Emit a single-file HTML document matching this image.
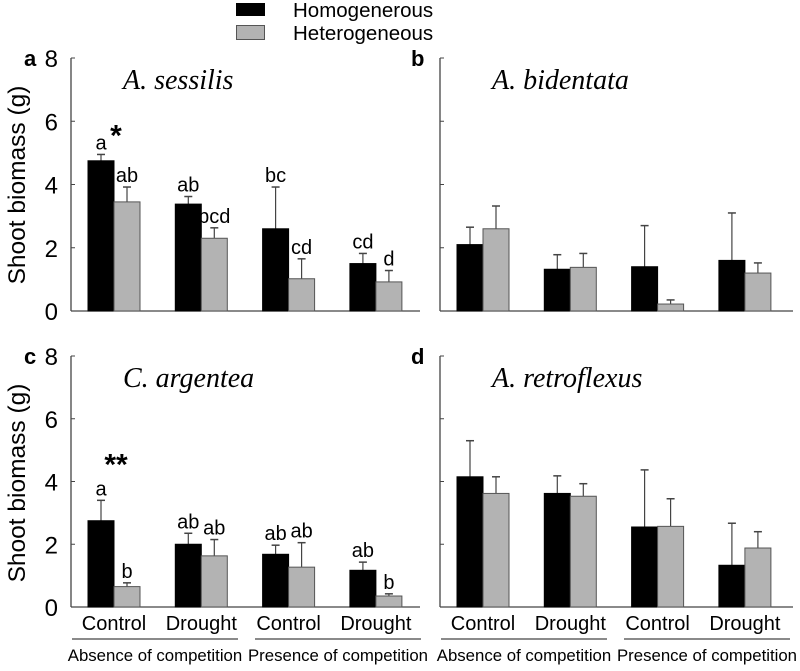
<!DOCTYPE html>
<html><head><meta charset="utf-8"><style>
body{margin:0;background:#fff;}
svg text{font-family:"Liberation Sans",sans-serif;}
</style></head><body>
<svg id="chart" width="800" height="666" viewBox="0 0 800 666" xmlns="http://www.w3.org/2000/svg">
<g>
<rect x="236" y="3" width="29" height="13" fill="#000"/>
<text x="293" y="17" font-size="20.5">Homogenerous</text>
<rect x="236.5" y="25.5" width="28" height="14" fill="#b3b3b3" stroke="#555" stroke-width="1"/>
<text x="293" y="40" font-size="20.5">Heterogeneous</text>
</g>
<g id="plots"></g>
</svg>
<script>
const panelLetters = ['a','b','c','d'];
const panelTitles = ['A. sessilis','A. bidentata','C. argentea','A. retroflexus'];
const categories = ['Control','Drought','Control','Drought'];
const groupLabels = ['Absence of competition','Presence of competition'];
const yTicks = [0,2,4,6,8];
const homoMean = [[4.75,3.38,2.6,1.5],[2.1,1.32,1.4,1.6],[2.75,2.0,1.68,1.17],[4.15,3.62,2.55,1.33]];
const homoErr  = [[4.95,3.62,3.92,1.82],[2.65,1.78,2.7,3.1],[3.4,2.35,1.97,1.43],[5.3,4.18,4.37,2.67]];
const hetMean  = [[3.45,2.3,1.02,0.92],[2.6,1.38,0.22,1.2],[0.65,1.63,1.27,0.35],[3.62,3.53,2.57,1.88]];
const hetErr   = [[3.92,2.63,1.65,1.28],[3.32,1.82,0.35,1.52],[0.77,2.15,2.05,0.42],[4.15,3.93,3.45,2.4]];
const homoLetters = [['a','ab','bc','cd'],[],['a','ab','ab','ab'],[]];
const hetLetters  = [['ab','bcd','cd','d'],[],['b','ab','ab','b'],[]];
const stars = [{t:'*',i:0},null,{t:'**',i:0},null];

const NS='http://www.w3.org/2000/svg';
const root=document.getElementById('plots');
function mk(tag,attrs,parent){const e=document.createElementNS(NS,tag);for(const k in attrs)e.setAttribute(k,attrs[k]);parent.appendChild(e);return e;}
const layout=[{x0:71,x1:420,y0:311,y8:58},{x0:440,x1:793,y0:311,y8:58},{x0:71,x1:420,y0:607,y8:356},{x0:440,x1:793,y0:607,y8:356}];
const bw=26,gap=87.3;
layout.forEach((L,p)=>{
  const g=mk('g',{},root);
  
  
  const ys=v=>L.y0-(L.y0-L.y8)*v/8;
  const xs=i=>L.x0+17+i*gap;
  const ax=mk('line',{x1:L.x0,y1:L.y8,x2:L.x0,y2:L.y0,stroke:'#444','stroke-width':1.3},g);
  
  
  const bx=mk('line',{x1:L.x0,y1:L.y0,x2:L.x1,y2:L.y0,stroke:'#444','stroke-width':1.3},g);
  
  
  yTicks.forEach(t=>{
    const tk=mk('line',{x1:L.x0,y1:ys(t),x2:L.x0+4,y2:ys(t),stroke:'#444','stroke-width':1},g);
    
    
    if(p%2===0){
      const tl=mk('text',{x:L.x0-13,y:ys(t)+9,'font-size':24,'text-anchor':'end'},g);
      tl.textContent=t;
      
      
    }
  });
  const lt=mk('text',{x:p%2===0?24:411,y:L.y8+8,'font-size':22,'font-weight':'bold'},g);
  lt.textContent=panelLetters[p];
  
  
  const tt=mk('text',{x:L.x0+52,y:L.y8+31,'font-size':28,'font-style':'italic',style:'font-family:"Liberation Serif",serif'},g);
  tt.textContent=panelTitles[p];
  
  
  for(let i=0;i<4;i++){
    const x=xs(i);
    [[homoMean,homoErr,'#000','homogenerous',homoLetters],[hetMean,hetErr,'#b3b3b3','heterogeneous',hetLetters]].forEach((s,k)=>{
      const bxx=x+k*bw, m=s[0][p][i], e=s[1][p][i];
      const cx=bxx+bw/2;
      const el=mk('line',{x1:cx,y1:ys(m),x2:cx,y2:ys(e),stroke:'#444','stroke-width':1.2},g);
      
      
      const cap=mk('line',{x1:cx-4,y1:ys(e),x2:cx+4,y2:ys(e),stroke:'#444','stroke-width':1.5},g);
      
      
      const r=mk('rect',{x:bxx,y:ys(m),width:bw,height:L.y0-ys(m),fill:s[2],stroke:k?'#555':'#000','stroke-width':1},g);
      
      
      const lab=s[4][p][i];
      if(lab){
        const tx=mk('text',{x:cx,y:ys(e)-5,'font-size':20,'text-anchor':'middle'},g);
        tx.textContent=lab;
        
        
      }
    });
  }
  if(stars[p]){
    const st=stars[p];
    const sy=p===0?ys(5.7):ys(4.7);
    const s=mk('text',{x:xs(st.i)+bw+2,y:sy+15,'font-size':30,'font-weight':'bold','text-anchor':'middle'},g);
    s.textContent=st.t;
    
    
  }
  if(p>=2){
    for(let i=0;i<4;i++){
      const c=mk('text',{x:xs(i)+bw,y:630,'font-size':20,'text-anchor':'middle'},g);
      c.textContent=categories[i];
      
      
    }
    for(let j=0;j<2;j++){
      const lx1=L.x0+1+j*183, lx2=L.x0+167+j*183;
      const ln=mk('line',{x1:lx1,y1:639,x2:lx2,y2:639,stroke:'#444','stroke-width':1.3},g);
      
      
      const gt=mk('text',{x:(lx1+lx2)/2,y:661,'font-size':16.8,'text-anchor':'middle'},g);
      gt.textContent=groupLabels[j];
      
      
    }
  }
});
const yl=[[16,185],[16,483]];
yl.forEach(c=>{
  const t=mk('text',{x:c[0],y:c[1],'font-size':24.5,'text-anchor':'middle',transform:`rotate(-90 ${c[0]} ${c[1]})`,dy:9},document.getElementById('chart'));
  t.textContent='Shoot biomass (g)';
  
  
});
</script>
</body></html>
